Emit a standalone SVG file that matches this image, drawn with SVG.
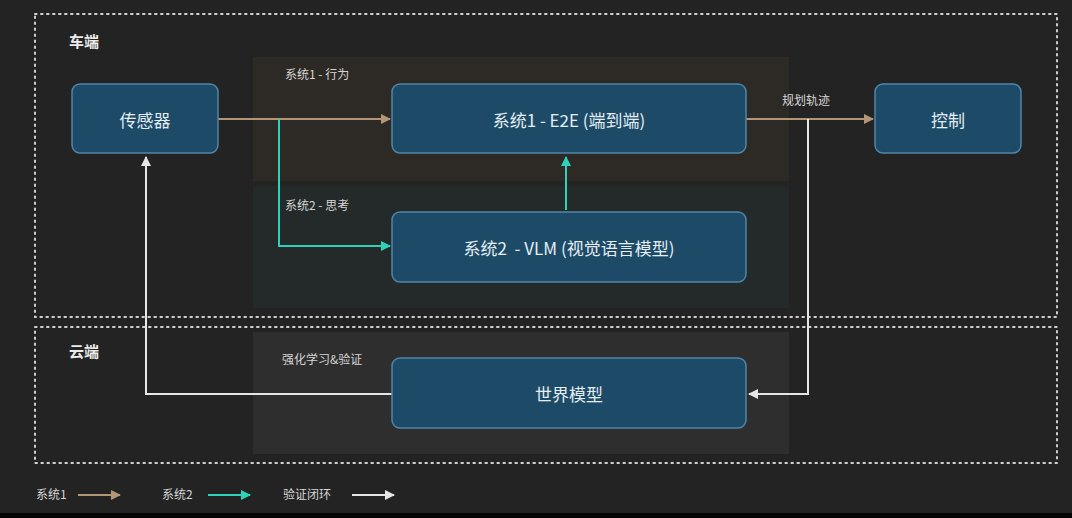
<svg xmlns="http://www.w3.org/2000/svg" width="1072" height="518" viewBox="0 0 1072 518">
<defs>
<style>
.frame{fill:none;stroke:#cfcfcf;stroke-width:2;stroke-dasharray:1.6 4.4;stroke-linecap:round}
.node rect{fill:#1d4a67;stroke:#4f86a8;stroke-width:1.5}
.node text{fill:#e4eef4;font-family:"Noto Sans CJK SC","Noto Sans",sans-serif;font-size:17px;text-anchor:middle;dominant-baseline:central}
.zone{font-family:"Noto Sans CJK SC",sans-serif;font-size:15px;font-weight:bold;fill:#ececec}
.lbl{font-family:"Noto Sans CJK SC",sans-serif;font-size:12px;fill:#d6d6d6}
.s1{stroke:#b39676;stroke-width:2;fill:none}
.s2{stroke:#2fd1b8;stroke-width:2;fill:none}
.lp{stroke:#e6e6e6;stroke-width:2;fill:none}
</style>
<marker id="a1" viewBox="0 0 10 10" refX="9" refY="5" markerWidth="5" markerHeight="5" orient="auto"><path d="M0,0L10,5L0,10z" fill="#b39676"/></marker>
<marker id="a2" viewBox="0 0 10 10" refX="9" refY="5" markerWidth="5" markerHeight="5" orient="auto"><path d="M0,0L10,5L0,10z" fill="#2fd1b8"/></marker>
<marker id="a3" viewBox="0 0 10 10" refX="9" refY="5" markerWidth="5" markerHeight="5" orient="auto"><path d="M0,0L10,5L0,10z" fill="#e6e6e6"/></marker>
</defs>
<rect width="1072" height="518" fill="#232323"/>
<rect y="513" width="1072" height="5" fill="#050505"/>
<g id="bands">
<rect x="253" y="57" width="536" height="124" fill="#2d2925"/>
<rect x="253" y="186" width="536" height="122" fill="#232a29"/>
<rect x="253" y="332" width="536" height="122" fill="#2e2e2e"/>
</g>
<g id="zones">
<rect class="frame" x="35" y="14" width="1022" height="303"/>
<rect class="frame" x="35" y="327" width="1022" height="136"/>
<text class="zone" x="69" y="47">车端</text>
<text class="zone" x="69" y="357">云端</text>
<text class="lbl" x="285" y="79">系统1 - 行为</text>
<text class="lbl" x="285" y="210">系统2 - 思考</text>
<text class="lbl" x="282" y="364">强化学习&amp;验证</text>
<text class="lbl" x="782" y="105">规划轨迹</text>
</g>
<g id="connectors">
<path class="s1" d="M218,119H390" marker-end="url(#a1)"/>
<path class="s1" d="M746,119H873" marker-end="url(#a1)"/>
<path class="s2" d="M279,119V246H390" marker-end="url(#a2)"/>
<path class="s2" d="M566,210V157" marker-end="url(#a2)"/>
<path class="lp" d="M808,119V394H749" marker-end="url(#a3)"/>
<path class="lp" d="M392,394H146V157" marker-end="url(#a3)"/>
</g>
<g id="sensor" class="node"><rect x="72" y="84" width="146" height="69" rx="8"/><text x="145" y="119">传感器</text></g>
<g id="e2e" class="node"><rect x="392" y="84" width="354" height="69" rx="8"/><text x="569" y="119">系统1 - E2E (端到端)</text></g>
<g id="vlm" class="node"><rect x="392" y="212" width="354" height="70" rx="8"/><text x="569" y="247" xml:space="preserve">系统2  - VLM (视觉语言模型)</text></g>
<g id="control" class="node"><rect x="875" y="84" width="146" height="69" rx="8"/><text x="948" y="119">控制</text></g>
<g id="world" class="node"><rect x="392" y="358" width="354" height="70" rx="8"/><text x="569" y="393">世界模型</text></g>
<g id="legend">
<text class="lbl" x="36" y="499">系统1</text>
<path class="s1" d="M78,495H120" marker-end="url(#a1)"/>
<text class="lbl" x="162" y="499">系统2</text>
<path class="s2" d="M208,495H250" marker-end="url(#a2)"/>
<text class="lbl" x="283" y="499">验证闭环</text>
<path class="lp" d="M352,495H394" marker-end="url(#a3)"/>
</g>
</svg>
